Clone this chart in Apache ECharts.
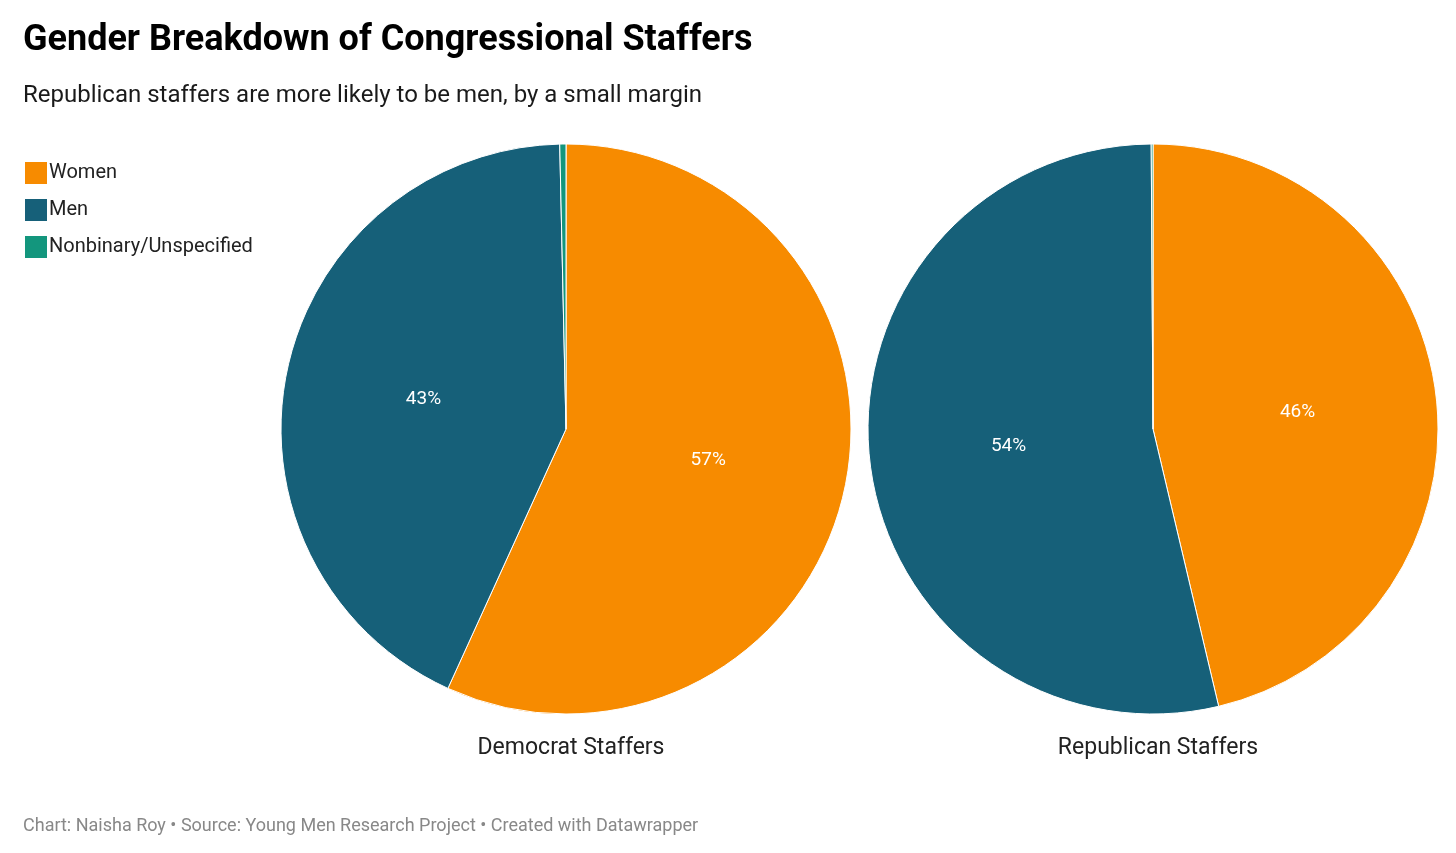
<!DOCTYPE html>
<html>
<head>
<meta charset="utf-8">
<script src="https://cdn.jsdelivr.net/npm/echarts@6/dist/echarts.min.js"></script>
<style>
html, body { margin: 0; padding: 0; background: #fff; }
#main { width: 1456px; height: 853px; }
</style>
</head>
<body>
<div id="main"></div>
<script>
// data
var categories = ['Women', 'Men', 'Nonbinary/Unspecified'];
var demValues = [56.8, 42.85, 0.35];
var repValues = [46.3, 53.6, 0.1];
var pieNames = ['Democrat Staffers', 'Republican Staffers'];
var colors = ['#f78b00', '#166079', '#13967d'];

var myChart = echarts.init(document.getElementById('main'));

function pieData(vals) {
    return vals.map(function (v, i) {
        return { name: categories[i], value: v, label: { show: v > 3 } };
    });
}

function pieSeries(vals, cx) {
    return {
        type: 'pie',
        center: [cx, 429],
        radius: [0, 285],
        startAngle: 90,
        clockwise: true,
        silent: true,
        data: pieData(vals),
        itemStyle: { borderColor: '#fff', borderWidth: 1 },
        label: {
            position: 'inside',
            color: '#fff',
            fontFamily: 'Roboto',
            fontSize: 19,
            formatter: function (p) { return Math.round(p.value) + '%'; }
        },
        labelLine: { show: false }
    };
}

var option = {
    color: colors,
    animation: false,
    textStyle: { fontFamily: 'Roboto' },
    title: [
        {
            text: 'Gender Breakdown of Congressional Staffers',
            left: 18, top: 18,
            textStyle: { fontFamily: 'Roboto', fontWeight: 'bold', fontSize: 36, color: '#000' }
        },
        {
            text: 'Republican staffers are more likely to be men, by a small margin',
            left: 18, top: 79,
            textStyle: { fontFamily: 'Roboto', fontWeight: 'normal', fontSize: 24, color: '#1a1a1a' }
        },
        {
            text: pieNames[0], left: 566, top: 732, textAlign: 'center',
            textStyle: { fontFamily: 'Roboto', fontWeight: 'normal', fontSize: 23, color: '#222' }
        },
        {
            text: pieNames[1], left: 1153, top: 732, textAlign: 'center',
            textStyle: { fontFamily: 'Roboto', fontWeight: 'normal', fontSize: 23, color: '#222' }
        },
        {
            text: 'Chart: Naisha Roy • Source: Young Men Research Project • Created with Datawrapper',
            left: 18, top: 812,
            textStyle: { fontFamily: 'Roboto', fontWeight: 'normal', fontSize: 18, color: '#888' }
        }
    ],
    legend: {
        orient: 'vertical',
        left: 18, top: 155,
        itemWidth: 24, itemHeight: 24, itemGap: 11,
        icon: 'rect',
        data: categories,
        textStyle: { fontFamily: 'Roboto', fontSize: 20, color: '#222', padding: [0, 0, 0, -4] }
    },
    series: [pieSeries(demValues, 566), pieSeries(repValues, 1153)]
};

myChart.setOption(option);
</script>
</body>
</html>
